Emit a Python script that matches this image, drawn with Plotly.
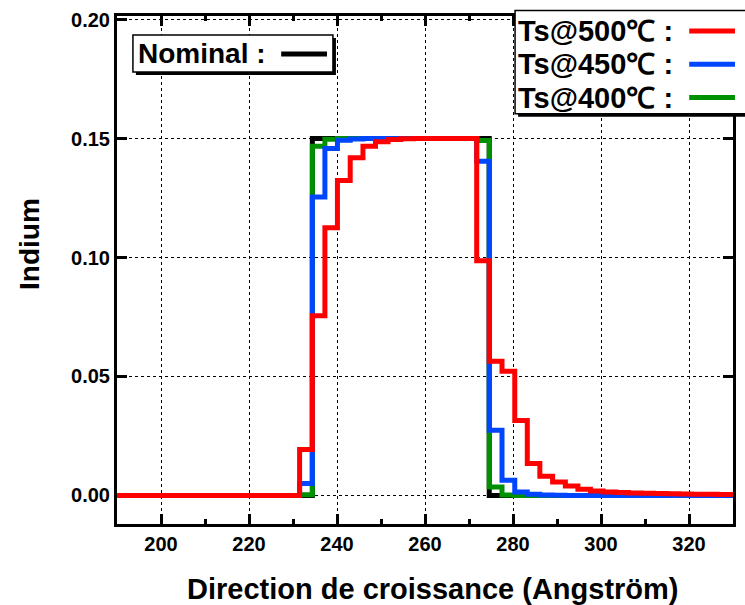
import plotly.graph_objects as go

# Depth positions (Angström) where each monolayer step begins
x_edges = [190.0, 231.5, 234.4, 237.25, 240.1, 243.0, 245.9, 248.75, 251.6, 254.5,
           257.4, 260.25, 263.1, 266.0, 268.9, 271.75, 274.6, 277.5, 280.4, 283.25,
           286.1, 289.0, 291.9, 294.75, 297.6, 300.5, 303.4, 306.25, 309.1, 312.0,
           314.9, 317.75, 320.6, 323.5, 326.4, 330.0]

# Indium fraction in each step
nominal = [0, 0, 0.15, 0.15, 0.15, 0.15, 0.15, 0.15, 0.15, 0.15,
           0.15, 0.15, 0.15, 0.15, 0.15, 0.15, 0, 0, 0, 0,
           0, 0, 0, 0, 0, 0, 0, 0, 0, 0,
           0, 0, 0, 0, 0, 0]
ts400 = [0, 0.0003, 0.1468, 0.1497, 0.15, 0.15, 0.15, 0.15, 0.15, 0.15,
         0.15, 0.15, 0.15, 0.15, 0.15, 0.1492, 0.0036, 0.0002, 0, 0,
         0, 0, 0, 0, 0, 0, 0, 0, 0, 0,
         0, 0, 0, 0, 0, 0]
ts450 = [0, 0.0050, 0.1254, 0.1458, 0.1493, 0.1498, 0.15, 0.15, 0.15, 0.15,
         0.15, 0.15, 0.15, 0.15, 0.15, 0.1405, 0.0274, 0.0064, 0.0015, 0.0005,
         0.0002, 0.0001, 0, 0, 0, 0, 0, 0, 0, 0,
         0, 0, 0, 0, 0, 0]
ts500 = [0, 0.0193, 0.0755, 0.1125, 0.1324, 0.1419, 0.1468, 0.1486, 0.1496, 0.1499,
         0.15, 0.15, 0.15, 0.15, 0.15, 0.0986, 0.0564, 0.0522, 0.0315, 0.0134,
         0.0081, 0.0057, 0.0040, 0.0026, 0.0019, 0.0015, 0.0012, 0.0010, 0.0009, 0.0008,
         0.0007, 0.0006, 0.0005, 0.0005, 0.0004, 0.0004]

series = [
    ("Nominal :", nominal, "#000000"),
    ("Ts@400℃ :", ts400, "#009100"),
    ("Ts@450℃ :", ts450, "#0046ff"),
    ("Ts@500℃ :", ts500, "#ff0000"),
]

FONT = "Liberation Sans, Arial, sans-serif"
W, H = 745, 605
ML, MR, MT, MB = 117, 9, 15, 81
PW, PH = W - ML - MR, H - MT - MB


def px(xp):
    return (xp - ML) / PW


def py(yp):
    return (H - MB - yp) / PH


fig = go.Figure()
for name, vals, color in series:
    fig.add_trace(go.Scatter(x=x_edges, y=vals, mode="lines", name=name,
                             line=dict(shape="hv", color=color, width=5),
                             showlegend=False))

axis_common = dict(
    showline=True, linecolor="black", linewidth=3, mirror="ticks",
    ticks="inside", ticklen=10, tickwidth=3, tickcolor="black",
    showgrid=True, gridcolor="black", gridwidth=1, griddash="dot",
    zeroline=False,
    tickfont=dict(family=FONT, size=20, color="black", weight="bold"),
)

fig.update_xaxes(range=[190, 330], dtick=20, tick0=200,
                 minor=dict(ticks="inside", ticklen=5, tickwidth=3,
                            tickcolor="black", dtick=10, showgrid=False),
                 **axis_common)
# profiles are drawn over the y ticks
fig.update_yaxes(range=[-0.012, 0.2015], dtick=0.05, tick0=0, tickformat=".2f",
                 layer="below traces", **axis_common)

shapes = []
annotations = []
KEY_FONT = dict(family=FONT, color="black", weight="bold")

# "Nominal" key box (with drop shadow)
shapes.append(dict(type="rect", xref="paper", yref="paper",
                   x0=px(136), x1=px(337), y0=py(37), y1=py(74),
                   fillcolor="black", line=dict(width=0), layer="above"))
shapes.append(dict(type="rect", xref="paper", yref="paper",
                   x0=px(133), x1=px(334), y0=py(34), y1=py(71),
                   fillcolor="white", line=dict(color="black", width=1.5), layer="above"))
shapes.append(dict(type="line", xref="paper", yref="paper",
                   x0=px(282), x1=px(328), y0=py(53), y1=py(53),
                   line=dict(color="black", width=5), layer="above"))
annotations.append(dict(text="Nominal :", xref="paper", yref="paper",
                        x=px(136), y=py(53), xanchor="left", yanchor="middle",
                        showarrow=False, font=dict(size=28, **KEY_FONT)))

# Temperature key box (with drop shadow)
shapes.append(dict(type="rect", xref="paper", yref="paper",
                   x0=px(520), x1=px(752), y0=py(12.5), y1=py(116),
                   fillcolor="black", line=dict(width=0), layer="above"))
shapes.append(dict(type="rect", xref="paper", yref="paper",
                   x0=px(517), x1=px(750), y0=py(9.5), y1=py(113),
                   fillcolor="white", line=dict(color="black", width=1.5), layer="above"))
for (name, _, color), yrow in zip(series[3:0:-1], [30, 63.3, 96.7]):
    shapes.append(dict(type="line", xref="paper", yref="paper",
                       x0=px(692), x1=px(738), y0=py(yrow), y1=py(yrow),
                       line=dict(color=color, width=5), layer="above"))
    annotations.append(dict(text=name, xref="paper", yref="paper",
                            x=px(518), y=py(yrow), xanchor="left", yanchor="middle",
                            showarrow=False, font=dict(size=29, **KEY_FONT)))

# Axis titles
annotations.append(dict(text="Direction de croissance (Angström)", xref="paper", yref="paper",
                        x=px(435), y=py(589), xanchor="center", yanchor="middle",
                        showarrow=False, font=dict(size=29, **KEY_FONT)))
annotations.append(dict(text="Indium", xref="paper", yref="paper",
                        x=px(29), y=py(243), xanchor="center", yanchor="middle",
                        textangle=-90, showarrow=False, font=dict(size=28, **KEY_FONT)))

fig.update_layout(
    width=W, height=H,
    margin=dict(l=ML, r=MR, t=MT, b=MB, pad=0),
    paper_bgcolor="white", plot_bgcolor="white",
    shapes=shapes, annotations=annotations,
    showlegend=False,
)

fig.write_html("out.html")
